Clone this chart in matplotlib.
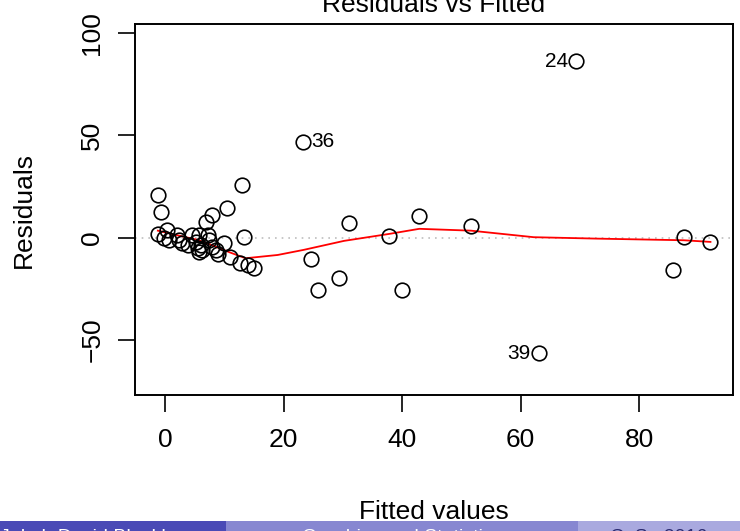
import matplotlib
matplotlib.use("Agg")
import matplotlib.pyplot as plt

plt.rcParams["font.family"] = ["Liberation Sans", "DejaVu Sans"]

# residuals vs fitted values
fitted = [-1.2, -0.7, 13.0, 10.4, 7.9, 6.9, -1.2, 0.3, -0.2, 0.6,
          2.1, 2.4, 2.9, 3.9, 4.5, 5.2, 5.5, 5.8, 6.0, 6.2,
          7.2, 7.5, 8.0, 8.6, 8.9, 9.9, 10.9, 13.3, 12.6, 14.0,
          15.0, 24.6, 25.8, 29.3, 31.1, 37.8, 40.0, 42.9, 51.6, 69.4,
          23.2, 63.0, 85.6, 87.5, 92.0, 5.7]
residuals = [20.8, 12.5, 25.7, 14.4, 11.0, 7.7, 1.8, 3.6, -0.3, -1.1,
             1.3, -1.1, -2.7, -3.6, 1.3, -2.0, -5.2, 1.3, -3.6, -6.0,
             1.3, -1.1, -4.4, -6.0, -8.0, -2.4, -9.6, 0.2, -12.2, -13.4,
             -15.0, -10.3, -25.4, -19.7, 7.0, 0.8, -25.4, 10.5, 5.5, 86.3,
             46.8, -56.6, -15.8, 0.5, -2.1, -6.8]

# red smoother (lowess) as drawn in the reference
smooth_x = [-1.2, 2.0, 5.5, 8.0, 11.0, 13.6, 19.0, 23.4, 30.2, 37.8,
            42.9, 51.6, 62.2, 72.9, 87.5, 92.0]
smooth_y = [3.4, 1.2, -1.1, -3.8, -7.3, -10.1, -8.5, -6.0, -1.6, 1.8,
            4.3, 3.4, 0.2, -0.5, -1.3, -2.1]

# labelled outliers
outlier_names = ["24", "36", "39"]
outlier_x = [69.4, 23.2, 63.0]
outlier_y = [86.3, 46.8, -56.6]
outlier_side = [-1, 1, -1]

x_ticks = [0, 20, 40, 60, 80]
y_ticks = [-50, 0, 50, 100]

# beamer footer
footer_text = ["Jakub David Blackburn", "Graphics and Statistics", "C. S., 2016"]
footer_colors = ["#4a4ab6", "#8787d1", "#a9a9df"]
footer_text_colors = ["white", "white", "#2a2a70"]

fig = plt.figure(figsize=(7.4, 5.31), dpi=100)
ax = fig.add_axes([135 / 740, 136 / 531, 598 / 740, 371 / 531])

ax.axhline(0, color="#bebebe", linestyle=(0, (1, 3)), linewidth=1.2, zorder=1)
ax.plot(smooth_x, smooth_y, color="red", linewidth=1.3, zorder=2)
ax.plot(fitted, residuals, linestyle="none", marker="o", markersize=10.5,
        markerfacecolor="none", markeredgecolor="black", markeredgewidth=1.2, zorder=3)

for name, x, y, side in zip(outlier_names, outlier_x, outlier_y, outlier_side):
    ax.annotate(name, (x, y), xytext=(6 * side, 0), textcoords="offset points",
                ha="left" if side > 0 else "right", va="center", fontsize=15)

ax.set_xlim(-5.05, 95.8)
ax.set_ylim(-77, 104.5)
ax.set_xticks(x_ticks)
ax.set_yticks(y_ticks)
ax.set_yticklabels([str(v).replace("-", "\u2212") for v in y_ticks],
                   rotation=90, va="center")
ax.tick_params(direction="out", length=12, width=1.2, labelsize=19, pad=12)
ax.tick_params(axis="y", pad=10)
for sp in ax.spines.values():
    sp.set_linewidth(1.4)

ax.set_xlabel("Fitted values", fontsize=19, labelpad=34)
ax.set_ylabel("Residuals", fontsize=19, labelpad=32)
fig.text(434 / 740, (531 - 12) / 531, "Residuals vs Fitted", ha="center",
         va="baseline", fontsize=19)

# footer bars along the bottom edge of the slide
edges = [0, 226, 578, 740]
for i in range(3):
    fig.patches.append(plt.Rectangle((edges[i] / 740, 0), (edges[i + 1] - edges[i]) / 740,
                                     10 / 531, transform=fig.transFigure,
                                     facecolor=footer_colors[i], edgecolor="none"))
fig.text(0.0, -11 / 531, footer_text[0], ha="left", va="baseline",
         fontsize=14, color=footer_text_colors[0])
fig.text(402 / 740, -11 / 531, footer_text[1], ha="center", va="baseline",
         fontsize=14, color=footer_text_colors[1])
fig.text(659 / 740, -11 / 531, footer_text[2], ha="center", va="baseline",
         fontsize=14, color=footer_text_colors[2])

fig.savefig("out.png", dpi=100)
